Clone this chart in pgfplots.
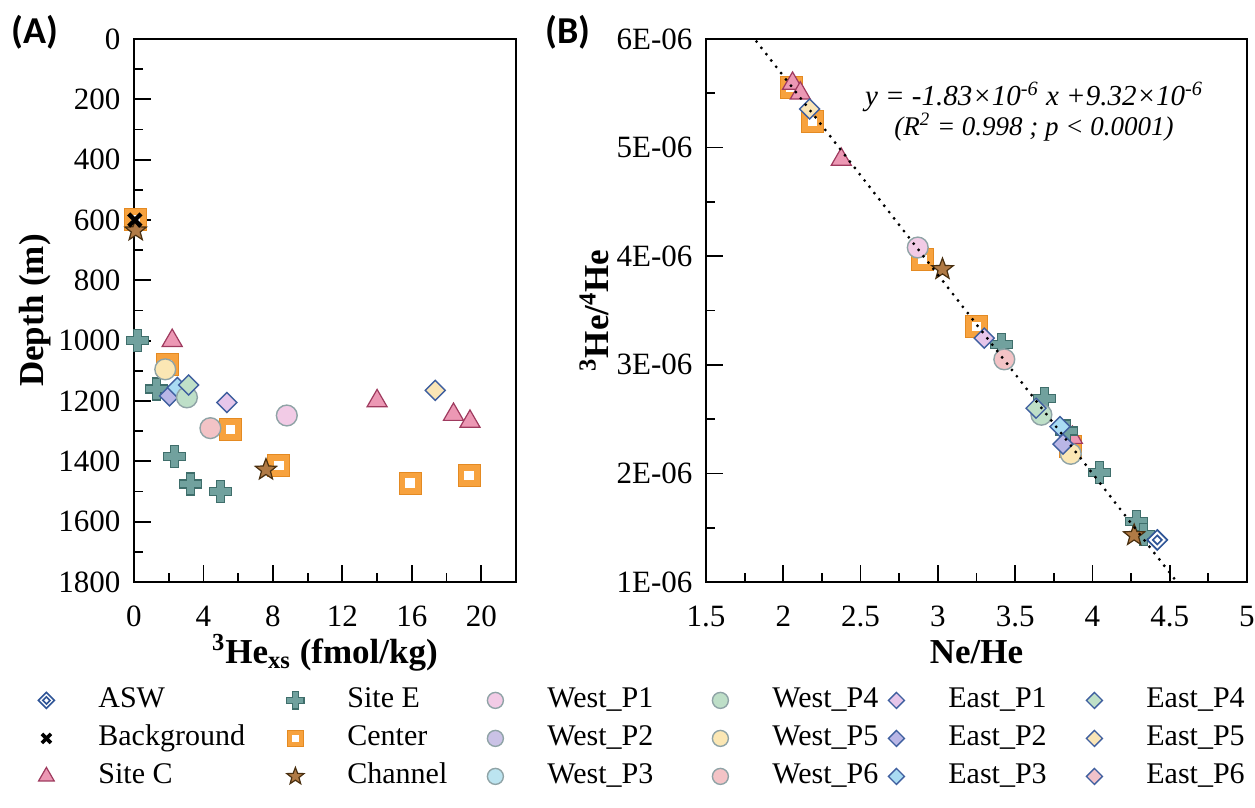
\documentclass[border=0pt]{standalone}
\usepackage{fontspec}
\setmainfont{Liberation Serif}
\setsansfont{Carlito}
\usepackage{pgfplots}
\pgfplotsset{compat=1.18}

\definecolor{aswblue}{HTML}{2F5597}
\definecolor{scfill}{HTML}{EC98B4}
\definecolor{scdraw}{HTML}{9E3A5E}
\definecolor{sefill}{HTML}{71A19E}
\definecolor{sedraw}{HTML}{3F6E6B}
\definecolor{ctfill}{HTML}{F7A23E}
\definecolor{ctdraw}{HTML}{E48A22}
\definecolor{chfill}{HTML}{B07A45}
\definecolor{chdraw}{HTML}{4A3010}
\definecolor{wdraw}{HTML}{8FA3A6}
\definecolor{edraw}{HTML}{3F5F9F}
\definecolor{wpa}{HTML}{F2CBE6}
\definecolor{wpb}{HTML}{CAC2E6}
\definecolor{wpc}{HTML}{BCE4F0}
\definecolor{wpd}{HTML}{BEDFC8}
\definecolor{wpe}{HTML}{FBE7B4}
\definecolor{wpf}{HTML}{F3C3C6}
\definecolor{epa}{HTML}{E6C6EA}
\definecolor{epb}{HTML}{B9B6E6}
\definecolor{epc}{HTML}{A9DBF3}
\definecolor{epd}{HTML}{BFE0C8}
\definecolor{epe}{HTML}{FAE5B6}
\definecolor{epf}{HTML}{F1C2CA}

\pgfdeclareplotmark{ddiamond}{%
  \pgfpathmoveto{\pgfqpoint{0pt}{\pgfplotmarksize}}%
  \pgfpathlineto{\pgfqpoint{\pgfplotmarksize}{0pt}}%
  \pgfpathlineto{\pgfqpoint{0pt}{-\pgfplotmarksize}}%
  \pgfpathlineto{\pgfqpoint{-\pgfplotmarksize}{0pt}}%
  \pgfpathclose
  \pgfusepathqfillstroke
  \pgfpathmoveto{\pgfqpoint{0pt}{0.45\pgfplotmarksize}}%
  \pgfpathlineto{\pgfqpoint{0.45\pgfplotmarksize}{0pt}}%
  \pgfpathlineto{\pgfqpoint{0pt}{-0.45\pgfplotmarksize}}%
  \pgfpathlineto{\pgfqpoint{-0.45\pgfplotmarksize}{0pt}}%
  \pgfpathclose
  \pgfusepathqstroke
}
\pgfdeclareplotmark{rdiamond}{%
  \pgfpathmoveto{\pgfqpoint{0pt}{\pgfplotmarksize}}%
  \pgfpathlineto{\pgfqpoint{\pgfplotmarksize}{0pt}}%
  \pgfpathlineto{\pgfqpoint{0pt}{-\pgfplotmarksize}}%
  \pgfpathlineto{\pgfqpoint{-\pgfplotmarksize}{0pt}}%
  \pgfpathclose
  \pgfusepathqfillstroke
}
\pgfdeclareplotmark{plusfill}{%
  \pgfpathmoveto{\pgfqpoint{0.36\pgfplotmarksize}{\pgfplotmarksize}}%
  \pgfpathlineto{\pgfqpoint{0.36\pgfplotmarksize}{0.36\pgfplotmarksize}}%
  \pgfpathlineto{\pgfqpoint{\pgfplotmarksize}{0.36\pgfplotmarksize}}%
  \pgfpathlineto{\pgfqpoint{\pgfplotmarksize}{-0.36\pgfplotmarksize}}%
  \pgfpathlineto{\pgfqpoint{0.36\pgfplotmarksize}{-0.36\pgfplotmarksize}}%
  \pgfpathlineto{\pgfqpoint{0.36\pgfplotmarksize}{-\pgfplotmarksize}}%
  \pgfpathlineto{\pgfqpoint{-0.36\pgfplotmarksize}{-\pgfplotmarksize}}%
  \pgfpathlineto{\pgfqpoint{-0.36\pgfplotmarksize}{-0.36\pgfplotmarksize}}%
  \pgfpathlineto{\pgfqpoint{-\pgfplotmarksize}{-0.36\pgfplotmarksize}}%
  \pgfpathlineto{\pgfqpoint{-\pgfplotmarksize}{0.36\pgfplotmarksize}}%
  \pgfpathlineto{\pgfqpoint{-0.36\pgfplotmarksize}{0.36\pgfplotmarksize}}%
  \pgfpathlineto{\pgfqpoint{-0.36\pgfplotmarksize}{\pgfplotmarksize}}%
  \pgfpathclose
  \pgfusepathqfillstroke
}
\pgfdeclareplotmark{centersq}{%
  \pgfpathrectanglecorners{\pgfqpoint{-\pgfplotmarksize}{-\pgfplotmarksize}}{\pgfqpoint{\pgfplotmarksize}{\pgfplotmarksize}}%
  \pgfusepathqfillstroke
  \pgfscope
  \pgfsetfillcolor{white}%
  \pgfpathrectanglecorners{\pgfqpoint{-0.42\pgfplotmarksize}{-0.42\pgfplotmarksize}}{\pgfqpoint{0.42\pgfplotmarksize}{0.42\pgfplotmarksize}}%
  \pgfusepathqfill
  \endpgfscope
}
\pgfdeclareplotmark{starfill}{%
  \pgfpathmoveto{\pgfqpoint{0pt}{\pgfplotmarksize}}%
  \pgfpathlineto{\pgfqpoint{-0.247\pgfplotmarksize}{0.340\pgfplotmarksize}}%
  \pgfpathlineto{\pgfqpoint{-0.951\pgfplotmarksize}{0.309\pgfplotmarksize}}%
  \pgfpathlineto{\pgfqpoint{-0.399\pgfplotmarksize}{-0.130\pgfplotmarksize}}%
  \pgfpathlineto{\pgfqpoint{-0.588\pgfplotmarksize}{-0.809\pgfplotmarksize}}%
  \pgfpathlineto{\pgfqpoint{0pt}{-0.42\pgfplotmarksize}}%
  \pgfpathlineto{\pgfqpoint{0.588\pgfplotmarksize}{-0.809\pgfplotmarksize}}%
  \pgfpathlineto{\pgfqpoint{0.399\pgfplotmarksize}{-0.130\pgfplotmarksize}}%
  \pgfpathlineto{\pgfqpoint{0.951\pgfplotmarksize}{0.309\pgfplotmarksize}}%
  \pgfpathlineto{\pgfqpoint{0.247\pgfplotmarksize}{0.340\pgfplotmarksize}}%
  \pgfpathclose
  \pgfusepathqfillstroke
}

\pgfplotsset{
  mkASW/.style={only marks, mark=ddiamond, mark size=5pt, mark options={draw=aswblue, fill=white, line width=0.8pt}},
  mkBG/.style={only marks, mark=x, mark size=4.3pt, mark options={draw=black, line width=2.2pt}},
  mkSC/.style={only marks, mark=triangle*, mark size=5.8pt, mark options={fill=scfill, draw=scdraw, line width=0.6pt}},
  mkSE/.style={only marks, mark=plusfill, mark size=5.5pt, mark options={fill=sefill, draw=sedraw, line width=0.6pt}},
  mkCT/.style={only marks, mark=centersq, mark size=5.5pt, mark options={fill=ctfill, draw=ctdraw, line width=0.5pt}},
  mkCH/.style={only marks, mark=starfill, mark size=5.6pt, mark options={fill=chfill, draw=chdraw, line width=0.6pt}},
  mkW/.style={only marks, mark=*, mark size=5.2pt, mark options={fill=#1, draw=wdraw, line width=0.7pt}},
  mkE/.style={only marks, mark=rdiamond, mark size=5pt, mark options={fill=#1, draw=edraw, line width=0.7pt}},
  panel/.style={
    scale only axis, height=271.5pt,
    tick align=inside, xtick pos=bottom, ytick pos=left,
    major tick length=8.5pt, minor tick length=4.5pt,
    every tick/.style={line width=0.9pt, black},
    axis line style={line width=1pt},
    minor x tick num=1, minor y tick num=1,
    clip mode=individual,
    tick label style={font=\fontsize{15.5}{18}\selectfont},
    /pgf/number format/assume math mode=true,
    /pgf/number format/1000 sep={},
    xticklabel style={anchor=base, yshift=-22pt},
    yticklabel style={anchor=east, xshift=-3.3pt},
    label style={font=\bfseries\fontsize{17.5}{20}\selectfont},
    xlabel style={at={(axis description cs:0.5,-0.1492)}, anchor=base},
  },
  legcol/.style={
    hide axis, scale only axis, width=10pt, height=10pt, anchor=north west,
    xmin=0, xmax=1, ymin=0, ymax=1,
    legend cell align=left,
    legend image code/.code={\path[draw=none,fill=none] (-8pt,-9pt) rectangle (8pt,10pt); \draw[##1] plot coordinates {(0pt,0pt)};},
    legend style={at={(0,1)}, anchor=north west, draw=none, fill=none, inner sep=0pt,
      font=\fontsize{15}{18}\selectfont, row sep=0pt,
      nodes={inner sep=1pt, text height=11pt, text depth=4pt},
      /tikz/every odd column/.append style={column sep=17pt}},
  },
}

\begin{document}
\begin{tikzpicture}
\path[use as bounding box] (0pt,0pt) rectangle (627.5pt,-404pt);

% ---------------- Panel A ----------------
\begin{axis}[panel, at={(67pt,-291pt)}, anchor=south west, width=191pt,
  xmin=0, xmax=22, xtick={0,4,8,12,16,20},
  ymin=0, ymax=1800, y dir=reverse, ytick={0,200,...,1800},
  xlabel={\textsuperscript{3}He\textsubscript{xs} (fmol/kg)},
  ylabel={Depth (m)},
  ylabel style={at={(axis description cs:-0.2382,0.5)}, anchor=base, rotate=0},
]
\addplot[mkSE] coordinates {(0.2,1000) (1.3,1160) (2.35,1385) (3.25,1475) (5.0,1500)};
\addplot[mkSC] coordinates {(2.2,1000) (14.0,1200) (18.4,1245) (19.35,1268)};
\addplot[mkCT] coordinates {(0.1,598) (1.95,1080) (5.55,1295) (8.35,1415) (15.9,1472) (19.3,1448)};
\addplot[mkW=wpe] coordinates {(1.8,1095)};
\addplot[mkE=epb] coordinates {(2.05,1183)};
\addplot[mkE=epc] coordinates {(2.5,1155)};
\addplot[mkW=wpd] coordinates {(3.05,1188)};
\addplot[mkE=epd] coordinates {(3.15,1147)};
\addplot[mkE=epa] coordinates {(5.35,1205)};
\addplot[mkW=wpf] coordinates {(4.4,1290)};
\addplot[mkW=wpa] coordinates {(8.8,1248)};
\addplot[mkE=epe] coordinates {(17.35,1165)};
\addplot[mkCH] coordinates {(0.1,635) (7.6,1428)};
\addplot[mkBG] coordinates {(0.05,600)};
\end{axis}

% ---------------- Panel B ----------------
\begin{axis}[panel, at={(353pt,-291pt)}, anchor=south west, width=270.5pt,
  xmin=1.5, xmax=5, xtick={1.5,2,...,5},
  ymin=1e-6, ymax=6e-6, ytick={1e-6,2e-6,3e-6,4e-6,5e-6,6e-6},
  yticklabels={1E-06,2E-06,3E-06,4E-06,5E-06,6E-06},
  scaled y ticks=false,
  xlabel={Ne/He},
  ylabel={\textsuperscript{3}He/\textsuperscript{4}He},
  ylabel style={at={(axis description cs:-0.181,0.5)}, anchor=base, rotate=0},
]
\addplot[mkCT] coordinates {(2.05,5.55e-6) (2.19,5.24e-6) (2.90,3.97e-6) (3.25,3.35e-6) (3.86,2.25e-6)};
\addplot[mkSC] coordinates {(2.06,5.59e-6) (2.11,5.50e-6) (2.375,4.89e-6) (3.87,2.33e-6)};
\addplot[mkE=epe] coordinates {(2.17,5.355e-6)};
\addplot[mkSE] coordinates {(3.41,3.19e-6) (3.69,2.69e-6) (3.83,2.39e-6) (4.045,2.01e-6) (4.285,1.555e-6) (4.33,1.44e-6)};
\addplot[mkW=wpa] coordinates {(2.87,4.08e-6)};
\addplot[mkE=epa] coordinates {(3.30,3.245e-6)};
\addplot[mkW=wpf] coordinates {(3.43,3.05e-6)};
\addplot[mkW=wpd] coordinates {(3.67,2.54e-6)};
\addplot[mkE=epd] coordinates {(3.635,2.60e-6)};
\addplot[mkE=epc] coordinates {(3.79,2.43e-6)};
\addplot[mkW=wpe] coordinates {(3.86,2.18e-6)};
\addplot[mkE=epb] coordinates {(3.81,2.27e-6)};
\addplot[mkCH] coordinates {(3.03,3.88e-6) (4.27,1.43e-6)};
\addplot[mkASW] coordinates {(4.42,1.387e-6)};
\addplot[black, line width=1.6pt, line cap=round, dash pattern=on 0pt off 4pt] coordinates {(1.7,6.209e-6) (4.6,0.902e-6)};
\end{axis}

% ---------------- texts ----------------
\node[anchor=base west, inner sep=0pt, font=\sffamily\bfseries\fontsize{19}{22}\selectfont] at (5.5pt,-22pt) {(A)};
\node[anchor=base west, inner sep=0pt, font=\sffamily\bfseries\fontsize{19}{22}\selectfont] at (272.5pt,-22pt) {(B)};
\node[anchor=base, font=\itshape\fontsize{14.5}{17}\selectfont] at (517pt,-53pt) {y = -1.83×10\textsuperscript{-6} x +9.32×10\textsuperscript{-6}};
\node[anchor=base, font=\itshape\fontsize{13.5}{16}\selectfont] at (517pt,-68pt) {(R\textsuperscript{2} = 0.998 ; p < 0.0001)};

% ---------------- legend ----------------
\begin{axis}[legcol, at={(15pt,-340pt)}]
\addlegendimage{mkASW, mark size=4pt}\addlegendentry{ASW}
\addlegendimage{mkBG, mark size=3.2pt, mark options={line width=1.8pt}}\addlegendentry{Background}
\addlegendimage{mkSC, mark size=4.5pt}\addlegendentry{Site C}
\end{axis}
\begin{axis}[legcol, at={(139.5pt,-340pt)}]
\addlegendimage{mkSE, mark size=4.3pt}\addlegendentry{Site E}
\addlegendimage{mkCT, mark size=4.2pt}\addlegendentry{Center}
\addlegendimage{mkCH, mark size=4.5pt}\addlegendentry{Channel}
\end{axis}
\begin{axis}[legcol, at={(239.5pt,-340pt)}]
\addlegendimage{mkW=wpa, mark size=4pt}\addlegendentry{West\_P1}
\addlegendimage{mkW=wpb, mark size=4pt}\addlegendentry{West\_P2}
\addlegendimage{mkW=wpc, mark size=4pt}\addlegendentry{West\_P3}
\end{axis}
\begin{axis}[legcol, at={(352pt,-340pt)}]
\addlegendimage{mkW=wpd, mark size=4pt}\addlegendentry{West\_P4}
\addlegendimage{mkW=wpe, mark size=4pt}\addlegendentry{West\_P5}
\addlegendimage{mkW=wpf, mark size=4pt}\addlegendentry{West\_P6}
\end{axis}
\begin{axis}[legcol, at={(440pt,-340pt)}]
\addlegendimage{mkE=epa, mark size=4pt}\addlegendentry{East\_P1}
\addlegendimage{mkE=epb, mark size=4pt}\addlegendentry{East\_P2}
\addlegendimage{mkE=epc, mark size=4pt}\addlegendentry{East\_P3}
\end{axis}
\begin{axis}[legcol, at={(539pt,-340pt)}]
\addlegendimage{mkE=epd, mark size=4pt}\addlegendentry{East\_P4}
\addlegendimage{mkE=epe, mark size=4pt}\addlegendentry{East\_P5}
\addlegendimage{mkE=epf, mark size=4pt}\addlegendentry{East\_P6}
\end{axis}
\end{tikzpicture}
\end{document}
